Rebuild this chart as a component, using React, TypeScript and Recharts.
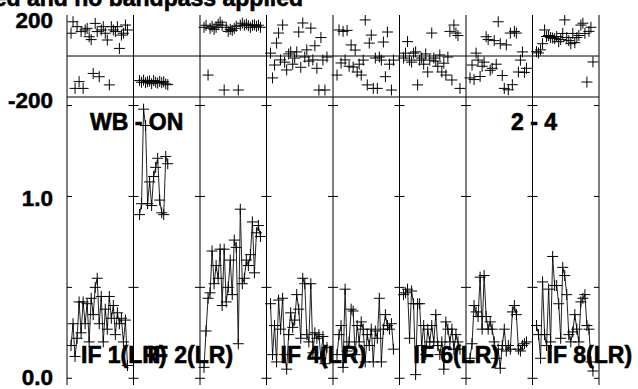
import React from 'react';
import { ComposedChart, Scatter, XAxis, YAxis, ReferenceLine } from 'recharts';

// channel span of one IF on the shared x axis
const CH = 33;
const N_IF = 8;
const X_MAX = CH * N_IF;
const firstChan = [2, 3, 2, 2, 2, 2, 2, 2];

const amp1 = [0.18, 0.30, 0.12, 0.22, 0.42, 0.25, 0.42, 0.30, 0.41, 0.20, 0.44, 0.35, 0.50, 0.55, 0.30, 0.45, 0.20, 0.38, 0.27, 0.45, 0.33, 0.40, 0.24, 0.36, 0.30, 0.33, 0.20, 0.32, 0.07];
const amp2 = [0.90, 0.96, 1.48, 1.39, 0.96, 1.08, 0.95, 1.11, 1.16, 1.21, 0.98, 0.91, 0.90, 1.22, 1.18];
const amp3 = [0.06, 0.26, 0.44, 0.47, 0.70, 0.52, 0.62, 0.55, 0.71, 0.40, 0.71, 0.42, 0.50, 0.65, 0.46, 0.76, 0.72, 0.19, 0.93, 0.52, 0.55, 0.65, 0.62, 0.68, 0.86, 0.58, 0.80, 0.84, 0.78];
const amp4 = [0.41, 0.13, 0.29, 0.09, 0.43, 0.27, 0.44, 0.13, 0.05, 0.24, 0.36, 0.28, 0.32, 0.46, 0.38, 0.22, 0.55, 0.52, 0.24, 0.20, 0.52, 0.14, 0.25, 0.22, 0.24, 0.11, 0.23, 0.08, 0.17];
const amp5 = [0.13, 0.24, 0.29, 0.06, 0.49, 0.15, 0.20, 0.38, 0.37, 0.13, 0.29, 0.20, 0.31, 0.27, 0.09, 0.24, 0.18, 0.27, 0.09, 0.26, 0.22, 0.44, 0.09, 0.27, 0.35, 0.29, 0.27, 0.30, 0.16];
const amp6 = [0.46, 0.47, 0.49, 0.22, 0.48, 0.41, 0.02, 0.41, 0.41, 0.18, 0.29, 0.13, 0.27, 0.20, 0.29, 0.20, 0.35, 0.18, 0.13, 0.20, 0.05, 0.31, 0.27, 0.20, 0.27, 0.16, 0.24, 0.20, 0.16];
const amp7 = [0.11, 0.19, 0.40, 0.365, 0.34, 0.556, 0.27, 0.565, 0.34, 0.27, 0.31, 0.27, 0.20, 0.11, 0.16, 0.055, 0.18, 0.27, 0.15, 0.18, 0.16, 0.365, 0.40, 0.35, 0.16, 0.15, 0.18, 0.19, 0.20];
const amp8 = [0.29, 0.24, 0.11, 0.53, 0.24, 0.18, 0.49, 0.20, 0.67, 0.51, 0.51, 0.41, 0.22, 0.61, 0.565, 0.46, 0.24, 0.20, 0.255, 0.35, 0.27, 0.20, 0.42, 0.44, 0.46, 0.29, 0.27, 0.09, 0.04];

const phs1 = [111, 167, -158, 143, -125, 119, -158, 127, 135, 94, 80, -85, 159, 119, -101, 127, 143, 111, 78, -141, 143, 127, 119, 143, 37, 102, 111, 151, 127];
const phs2 = [-120, -128, -118, -130, -125, -122, -135, -120, -128, -132, -124, -130, -126, -136, -140];
const phs3 = [140, 150, -93, 135, 145, 130, 140, 155, 165, 150, -166, 140, 120, 130, 125, 135, 145, -166, 150, 160, 150, 155, 148, 140, 150, 152, 145, 150, 140];
const phs4 = [14, -107, -44, 63, 112, -19, 151, -30, -68, 10, 20, -40, -10, 20, 117, -55, 161, -5, 30, -25, 136, -19, 50, -60, -166, 90, -20, -166, -5];
const phs5 = [-93, 127, -34, 120, -19, 125, -50, 54, -54, 29, -78, -40, -93, -20, 176, -141, 63, 102, -158, -10, -158, -5, -20, 68, -101, 117, -40, -166, -20];
const phs6 = [-10, 14, 70, -20, -30, 14, 20, -141, -20, -10, -40, 10, -78, -20, 112, -10, -25, -50, 5, -78, -35, -93, -5, 120, -117, 151, 112, 100, -158];
const phs7 = [-107, -44, -115, 14, -20, -100, -50, -30, 94, 80, -70, -60, 75, -40, 167, 60, -95, -158, 54, -165, 112, -140, 120, 112, -78, -20, 20, -80, -60];
const phs8 = [21, 15, 30, 60, 127, 95, 100, 90, 88, 85, 95, 70, 80, 110, 176, 90, 75, 60, 110, 65, 90, 100, 151, 160, 110, -127, 120, 140, -29];

const ampByIF = [amp1, amp2, amp3, amp4, amp5, amp6, amp7, amp8];
const phsByIF = [phs1, phs2, phs3, phs4, phs5, phs6, phs7, phs8];

const chanTicks = [10, 20, 30];
const ampTickMarks = [0, 0.5, 1.0, 1.5];
const ampLabels = [0, 1.0];
const phaseLabels = [-200, 200];

// panel index -> label (panels 3, 5, 7 carry no label in the plot)
const ifLabels = [
  { panel: 0, text: 'IF 1(LR)' },
  { panel: 1, text: 'IF 2(LR)' },
  { panel: 3, text: 'IF 4(LR)' },
  { panel: 5, text: 'IF 6(LR)' },
  { panel: 7, text: 'IF 8(LR)' },
];

const AMP_MIN = -0.037;
const AMP_MAX = 1.547;
const FONT = '"Liberation Sans", Arial, Helvetica, sans-serif';

const series = ampByIF.map((amps, k) =>
  amps.map((a, i) => ({ x: k * CH + firstChan[k] + i, amp: a, phase: phsByIF[k][i] }))
);
const boundaries = Array.from({ length: N_IF + 1 }, (_, k) => k * CH);
const xTicks = boundaries.slice(0, N_IF).flatMap((b) => chanTicks.map((t) => b + t));

const Cross = (props: any) => {
  const { cx, cy } = props;
  if (cx == null || cy == null) return null;
  return (
    <path
      d={`M${cx - 5.5},${cy}H${cx + 5.5}M${cx},${cy - 5.5}V${cy + 5.5}`}
      stroke="#000"
      strokeWidth={1}
      fill="none"
    />
  );
};

const nudge: Record<string, number> = { '200': 5, '-200': 2.5, '1': 1.5, '0': -1.5 };

const YLabel = (props: any) => {
  const { x, y, payload } = props;
  const v = payload.value;
  const txt = Math.abs(v) >= 10 ? String(v) : Number(v).toFixed(1);
  return (
    <text
      x={x}
      y={y + (nudge[String(v)] || 0)}
      dy="0.36em"
      textAnchor="end"
      fontFamily={FONT}
      fontWeight="bold"
      fontSize={22.5}
      fill="#000"
      stroke="#000"
      strokeWidth={0.5}
    >
      {txt}
    </text>
  );
};

const MARGIN_L = 7;
const MARGIN_R = 39;

function PhaseChart() {
  return (
    <ComposedChart width={638} height={389} margin={{ top: 15, bottom: 292, left: MARGIN_L, right: MARGIN_R }}>
      <XAxis
        xAxisId="bot"
        type="number"
        dataKey="x"
        domain={[0, X_MAX]}
        allowDataOverflow
        ticks={xTicks}
        height={0}
        mirror
        tick={false}
        tickSize={4}
        axisLine={{ stroke: '#000' }}
        tickLine={{ stroke: '#000' }}
      />
      <XAxis
        xAxisId="top"
        orientation="top"
        type="number"
        domain={[0, X_MAX]}
        allowDataOverflow
        ticks={xTicks}
        height={0}
        mirror
        tick={false}
        tickSize={4}
        axisLine={{ stroke: '#000' }}
        tickLine={{ stroke: '#000' }}
      />
      <YAxis
        type="number"
        dataKey="phase"
        domain={[-200, 200]}
        allowDataOverflow
        ticks={phaseLabels}
        width={60}
        tickSize={0}
        tickMargin={14}
        axisLine={false}
        tickLine={false}
        tick={<YLabel />}
      />
      <ReferenceLine xAxisId="bot" y={0} stroke="#000" />
      {boundaries.map((b) => (
        <ReferenceLine key={`pb${b}`} xAxisId="bot" x={b} stroke="#000" />
      ))}
      {series.map((d, k) => (
        <Scatter
          key={`ph${k}`}
          xAxisId="bot"
          data={d}
          dataKey="phase"
          shape={<Cross />}
          isAnimationActive={false}
        />
      ))}
    </ComposedChart>
  );
}

function AmpChart() {
  return (
    <ComposedChart width={638} height={389} margin={{ top: 97, bottom: 4, left: MARGIN_L, right: MARGIN_R }}>
      <XAxis
        type="number"
        dataKey="x"
        domain={[0, X_MAX]}
        allowDataOverflow
        ticks={xTicks}
        height={0}
        mirror
        tick={false}
        tickSize={4}
        axisLine={{ stroke: '#000' }}
        tickLine={{ stroke: '#000' }}
      />
      <YAxis
        type="number"
        dataKey="amp"
        domain={[AMP_MIN, AMP_MAX]}
        allowDataOverflow
        ticks={ampLabels}
        width={60}
        tickSize={0}
        tickMargin={14}
        axisLine={false}
        tickLine={false}
        tick={<YLabel />}
      />
      <ReferenceLine y={AMP_MAX} stroke="#000" />
      {boundaries.map((b) => (
        <ReferenceLine key={`ab${b}`} x={b} stroke="#000" />
      ))}
      {ampTickMarks.flatMap((v) =>
        boundaries.map((b) => (
          <ReferenceLine
            key={`at${v}-${b}`}
            segment={[
              { x: Math.max(0, b - 2.5), y: v },
              { x: Math.min(X_MAX, b + 2.5), y: v },
            ]}
            stroke="#000"
          />
        ))
      )}
      {series.map((d, k) => (
        <Scatter
          key={`am${k}`}
          data={d}
          dataKey="amp"
          shape={<Cross />}
          line={{ stroke: '#222', strokeWidth: 1 }}
          lineType="joint"
          isAnimationActive={false}
        />
      ))}
    </ComposedChart>
  );
}

export default function App() {
  const panelW = (638 - MARGIN_L - 60 - MARGIN_R) / N_IF;
  const textStyle = {
    fontFamily: FONT,
    fontWeight: 'bold' as const,
    fontSize: 23,
    fill: '#000',
    stroke: '#000',
    strokeWidth: 0.6,
  };
  return (
    <div style={{ position: 'absolute', left: 0, top: 0, width: 638, height: 389, background: '#fff', overflow: 'hidden' }}>
      <div style={{ position: 'absolute', left: 0, top: 0 }}>
        <PhaseChart />
      </div>
      <div style={{ position: 'absolute', left: 0, top: 0 }}>
        <AmpChart />
      </div>
      <svg width={638} height={389} style={{ position: 'absolute', left: 0, top: 0, pointerEvents: 'none' }}>
        <text x={303} y={6} textAnchor="end" {...textStyle}>ed and no bandpass applied</text>
        <text x={90} y={130} {...textStyle}>WB - ON</text>
        <text x={511} y={130} {...textStyle}>2 - 4</text>
        {ifLabels.map((l) => (
          <text key={l.text} x={MARGIN_L + 60 + l.panel * panelW + 14} y={363} {...textStyle}>
            {l.text}
          </text>
        ))}
      </svg>
    </div>
  );
}
